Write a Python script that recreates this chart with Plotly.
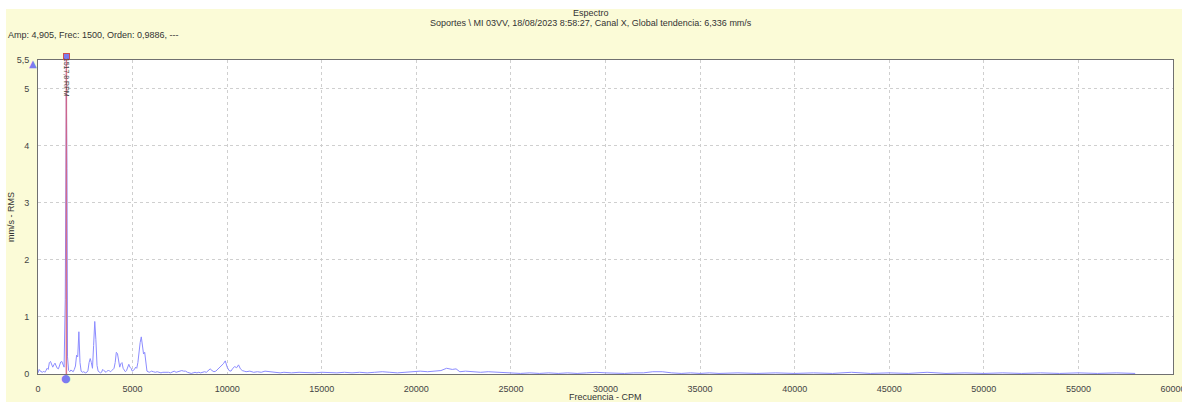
import plotly.graph_objects as go

# ---------------- data ----------------
freq_cpm = [0, 60, 120, 180, 240, 300, 360, 420, 480, 540, 600, 660, 720, 780, 840, 900, 960, 1020, 1080, 1140,
            1200, 1260, 1320, 1380, 1440, 1500, 1530, 1560, 1620, 1680, 1740, 1800, 1860, 1920, 1980, 2040, 2100,
            2160, 2220, 2280, 2340, 2400, 2460, 2520, 2580, 2640, 2700, 2760, 2820, 2880, 2940, 3000, 3060, 3120,
            3180, 3240, 3300, 3360, 3420, 3480, 3540, 3600, 3660, 3720, 3780, 3840, 3900, 3960, 4020, 4080, 4140,
            4200, 4260, 4320, 4380, 4440, 4500, 4560, 4620, 4680, 4740, 4800, 4860, 4920, 4980, 5040, 5100, 5160,
            5220, 5280, 5340, 5400, 5460, 5520, 5580, 5640, 5700, 5760, 5820, 5880, 5940, 6000, 6100, 6200, 6300,
            6400, 6500, 6600, 6700, 6800, 6900, 7000, 7100, 7200, 7300, 7400, 7500, 7600, 7700, 7800, 7900, 8000,
            8100, 8200, 8300, 8400, 8500, 8600, 8700, 8800, 8900, 9000, 9100, 9200, 9300, 9400, 9500, 9600, 9700,
            9800, 9900, 10000, 10100, 10200, 10300, 10400, 10500, 10600, 10700, 10800, 10900, 11000, 11200, 11400,
            11600, 11800, 12000, 12200, 12400, 12600, 12800, 13000, 13400, 13800, 14200, 14600, 15000, 15400,
            15800, 16200, 16600, 17000, 17400, 17800, 18200, 18600, 19000, 19400, 19800, 20200, 20600, 21000,
            21300, 21600, 21900, 22100, 22300, 22600, 23000, 23400, 23800, 24200, 24600, 25000, 25500, 26000,
            26500, 27000, 27500, 28000, 28500, 29000, 29500, 30000, 30500, 31000, 31500, 32000, 32500, 33000,
            33500, 34000, 34500, 35000, 35500, 36000, 37000, 38000, 39000, 40000, 41000, 42000, 43000, 44000,
            45000, 46000, 47000, 48000, 49000, 50000, 51000, 52000, 53000, 54000, 55000, 56000, 57000, 58000,
            59000, 60000]
amp_rms = [0.02, 0.08, 0.05, 0.04, 0.03, 0.05, 0.03, 0.06, 0.10, 0.08, 0.20, 0.22, 0.18, 0.12, 0.16, 0.19, 0.14,
           0.10, 0.09, 0.14, 0.21, 0.22, 0.15, 0.12, 1.30, 4.905, 3.60, 0.30, 0.06, 0.04, 0.07, 0.05, 0.04, 0.08,
           0.14, 0.33, 0.30, 0.74, 0.20, 0.05, 0.03, 0.04, 0.03, 0.02, 0.03, 0.06, 0.20, 0.27, 0.20, 0.10, 0.50,
           0.92, 0.60, 0.15, 0.05, 0.03, 0.02, 0.03, 0.08, 0.06, 0.04, 0.03, 0.05, 0.07, 0.05, 0.04, 0.06, 0.08,
           0.10, 0.20, 0.38, 0.36, 0.20, 0.12, 0.18, 0.20, 0.10, 0.06, 0.04, 0.06, 0.12, 0.17, 0.12, 0.10, 0.05,
           0.06, 0.08, 0.12, 0.10, 0.20, 0.40, 0.55, 0.65, 0.45, 0.35, 0.38, 0.15, 0.05, 0.04, 0.03, 0.04, 0.05,
           0.04, 0.03, 0.04, 0.03, 0.02, 0.03, 0.03, 0.04, 0.03, 0.02, 0.04, 0.05, 0.03, 0.04, 0.05, 0.06, 0.05,
           0.05, 0.03, 0.02, 0.01, 0.02, 0.03, 0.02, 0.03, 0.02, 0.03, 0.04, 0.03, 0.06, 0.09, 0.06, 0.04, 0.05,
           0.08, 0.12, 0.14, 0.18, 0.23, 0.12, 0.06, 0.05, 0.10, 0.13, 0.11, 0.16, 0.09, 0.06, 0.05, 0.04, 0.05,
           0.03, 0.04, 0.03, 0.05, 0.04, 0.03, 0.03, 0.02, 0.03, 0.02, 0.03, 0.02, 0.02, 0.03, 0.02, 0.02, 0.03,
           0.02, 0.03, 0.02, 0.03, 0.04, 0.03, 0.02, 0.03, 0.04, 0.05, 0.04, 0.05, 0.06, 0.10, 0.08, 0.09, 0.04,
           0.05, 0.04, 0.03, 0.04, 0.03, 0.02, 0.02, 0.01, 0.02, 0.01, 0.02, 0.01, 0.02, 0.01, 0.02, 0.03, 0.02,
           0.01, 0.01, 0.02, 0.02, 0.04, 0.04, 0.02, 0.01, 0.02, 0.01, 0.02, 0.01, 0.02, 0.01, 0.02, 0.01, 0.02,
           0.01, 0.03, 0.01, 0.02, 0.01, 0.03, 0.01, 0.02, 0.01, 0.02, 0.01, 0.02, 0.01, 0.02, 0.01, 0.02, 0.01]

x_ticks = [0, 5000, 10000, 15000, 20000, 25000, 30000, 35000, 40000, 45000, 50000, 55000, 60000]
y_ticks = [0, 1, 2, 3, 4, 5, 5.5]
y_ticktext = ["0", "1", "2", "3", "4", "5", "5,5"]

cursor_freq = 1500
cursor_label = "1517,8 RPM"
title_line1 = "Espectro"
title_line2 = "Soportes \\ MI 03VV, 18/08/2023 8:58:27, Canal X, Global tendencia: 6,336 mm/s"
cursor_info = "Amp: 4,905, Frec: 1500, Orden: 0,9886, ---"

# ---------------- figure ----------------
BG = "#FBFBD7"
MARK = "#7B7BF0"
W, H = 1182, 402
L, R, T, B = 38, 9, 60, 28
pw, ph = W - L - R, H - T - B


def px(xpix):
    return (xpix - L) / pw


def py(ypix):
    return (H - B - ypix) / ph


fig = go.Figure()
fig.add_trace(go.Scatter(x=freq_cpm, y=amp_rms, mode="lines",
                         line=dict(color="#8C8CFF", width=1), hoverinfo="x+y", showlegend=False))

fig.add_shape(type="line", xref="x", yref="y", x0=cursor_freq, x1=cursor_freq, y0=0, y1=5.5,
              line=dict(color="rgba(215,95,120,0.85)", width=1.5))

# cursor handles (annotations are never clipped)
fig.add_annotation(x=cursor_freq, y=5.5, xref="x", yref="y", text=" ", showarrow=False,
                   width=5, height=5, borderpad=0, bgcolor=MARK, bordercolor="#D05050", borderwidth=1,
                   yshift=4, font=dict(size=4))
fig.add_annotation(x=cursor_freq, y=0, xref="x", yref="y", text="●", showarrow=False,
                   xanchor="center", yanchor="middle",
                   font=dict(family="DejaVu Sans", size=11, color=MARK), yshift=-4)
fig.add_annotation(x=px(33), y=5.5, xref="paper", yref="y", text="▲", showarrow=False,
                   xanchor="center", yanchor="middle",
                   font=dict(family="DejaVu Sans", size=10, color=MARK), yshift=-3)

# white surroundings outside the yellow panel
fig.add_shape(type="rect", xref="paper", yref="paper", x0=px(0), x1=px(W), y0=py(0), y1=py(9),
              fillcolor="white", line=dict(width=0), layer="below")
fig.add_shape(type="rect", xref="paper", yref="paper", x0=px(0), x1=px(6), y0=py(0), y1=py(H),
              fillcolor="white", line=dict(width=0), layer="below")

font = dict(family="Liberation Sans, Arial, sans-serif", size=9, color="#333333")
fig.add_annotation(text=title_line1, xref="paper", yref="paper", x=px(591), y=py(13),
                   showarrow=False, font=font, xanchor="center", yanchor="middle")
fig.add_annotation(text=title_line2, xref="paper", yref="paper", x=px(591), y=py(23),
                   showarrow=False, font=font, xanchor="center", yanchor="middle")
fig.add_annotation(text=cursor_info, xref="paper", yref="paper", x=px(6), y=py(35),
                   showarrow=False, font=font, xanchor="left", yanchor="middle")
fig.add_annotation(text="mm/s - RMS", xref="paper", yref="paper", x=px(11), y=0.5, textangle=-90,
                   showarrow=False, font=font, xanchor="center", yanchor="middle")
fig.add_annotation(text="Frecuencia - CPM", xref="paper", yref="paper", x=0.5, y=py(396.5),
                   showarrow=False, font=font, xanchor="center", yanchor="middle")
fig.add_annotation(text=cursor_label, xref="x", yref="y", x=cursor_freq, y=5.2, textangle=90,
                   showarrow=False, font=dict(family="Liberation Sans, Arial, sans-serif", size=7, color="#444444"),
                   xanchor="center", yanchor="middle")

axis_common = dict(showline=True, linecolor="#707070", linewidth=1, mirror=True,
                   showgrid=True, gridcolor="#CFCFCF", griddash="3px,3px", gridwidth=1,
                   zeroline=False, ticks="", tickfont=dict(family="Liberation Sans, Arial, sans-serif",
                                                           size=9, color="#444444"))

fig.update_xaxes(range=[0, 60000], tickmode="array", tickvals=x_ticks,
                 ticktext=[str(v) for v in x_ticks], ticklabelstandoff=6, ticklabeloverflow="allow",
                 **axis_common)
fig.update_yaxes(range=[0, 5.5], tickmode="array", tickvals=y_ticks, ticktext=y_ticktext,
                 ticklabelstandoff=6, **axis_common)

fig.update_layout(width=W, height=H, margin=dict(l=L, r=R, t=T, b=B, autoexpand=False),
                  paper_bgcolor=BG, plot_bgcolor="white", showlegend=False,
                  separators=",.")

fig.write_html("out.html", config={"displayModeBar": False},
               post_script="document.body.style.margin='0';document.body.style.overflow='hidden';")
